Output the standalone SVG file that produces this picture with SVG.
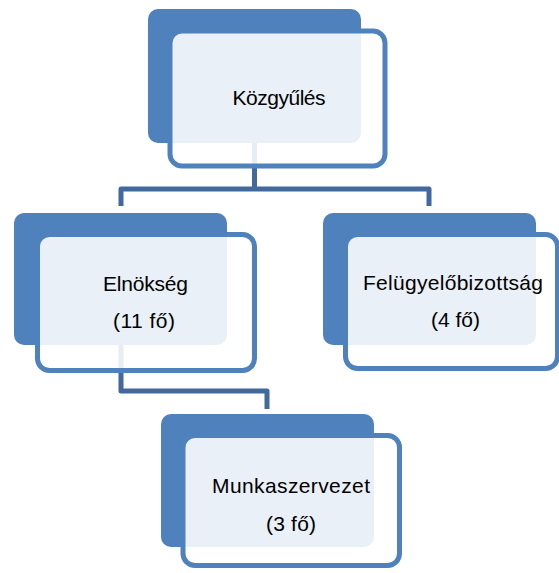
<svg xmlns="http://www.w3.org/2000/svg" width="559" height="573" viewBox="0 0 559 573">
<style>
.back{fill:#4F81BD}
.front{fill:#FFFFFF;fill-opacity:0.88;stroke:#4F81BD;stroke-width:5}
.conn{fill:none;stroke:#41699E;stroke-width:5;stroke-linejoin:round}
text{font-family:"Liberation Sans",Arial,sans-serif;font-size:21px;fill:#000;text-anchor:middle}
</style>
<rect width="559" height="573" fill="#FFFFFF"/>
<g id="connectors">
<path class="conn" d="M254.5 120 V189 M121 206 V189 H429 V206"/>
<path class="conn" d="M121 330 V391 H267 V409"/>
</g>
<g id="kozgyules">
<rect class="back" x="148" y="9" width="213" height="134" rx="10"/>
<rect class="front" x="170" y="31" width="215" height="135" rx="12"/>
<text x="279" y="105" textLength="93" lengthAdjust="spacing">Közgyűlés</text>
</g>
<g id="elnokseg">
<rect class="back" x="14" y="213" width="213" height="132" rx="10"/>
<rect class="front" x="37.5" y="234.5" width="217" height="136" rx="12"/>
<text x="145.5" y="291" textLength="85" lengthAdjust="spacing">Elnökség</text>
<text x="144" y="328" textLength="62" lengthAdjust="spacing">(11 fő)</text>
</g>
<g id="felugyelobizottsag">
<rect class="back" x="323" y="213" width="213" height="132" rx="10"/>
<rect class="front" x="345.5" y="234.5" width="212" height="134" rx="12"/>
<text x="453" y="290" textLength="180" lengthAdjust="spacing">Felügyelőbizottság</text>
<text x="455.5" y="327" textLength="49" lengthAdjust="spacing">(4 fő)</text>
</g>
<g id="munkaszervezet">
<rect class="back" x="161" y="414" width="213" height="133" rx="10"/>
<rect class="front" x="183" y="435.5" width="216.5" height="130" rx="12"/>
<text x="291" y="493" textLength="158" lengthAdjust="spacing">Munkaszervezet</text>
<text x="291" y="531" textLength="50" lengthAdjust="spacing">(3 fő)</text>
</g>
</svg>
